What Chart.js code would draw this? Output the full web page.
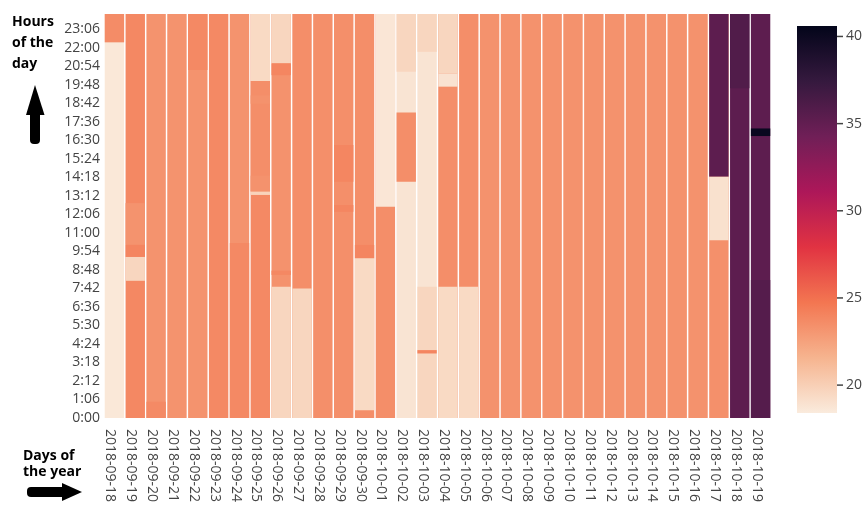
<!DOCTYPE html>
<html>
<head>
<meta charset="utf-8">
<script src="https://cdn.jsdelivr.net/npm/chart.js@4.4.1/dist/chart.umd.min.js"></script>
<style>
  html, body { margin: 0; padding: 0; background: #fff; }
  canvas { display: block; }
</style>
</head>
<body>
<canvas id="heat" width="867" height="506"></canvas>
<script>
// --- Data ---
const dates = [
    '2018-09-18', '2018-09-19', '2018-09-20', '2018-09-21', '2018-09-22', '2018-09-23',
    '2018-09-24', '2018-09-25', '2018-09-26', '2018-09-27', '2018-09-28', '2018-09-29',
    '2018-09-30', '2018-10-01', '2018-10-02', '2018-10-03', '2018-10-04', '2018-10-05',
    '2018-10-06', '2018-10-07', '2018-10-08', '2018-10-09', '2018-10-10', '2018-10-11',
    '2018-10-12', '2018-10-13', '2018-10-14', '2018-10-15', '2018-10-16', '2018-10-17',
    '2018-10-18', '2018-10-19'
];
const hourLabels = [
    '0:00', '1:06', '2:12', '3:18', '4:24', '5:30', '6:36', '7:42', '8:48', '9:54', '11:00',
    '12:06', '13:12', '14:18', '15:24', '16:30', '17:36', '18:42', '19:48', '20:54', '22:00', '23:06'
];
const colorTicks = [20, 25, 30, 35, 40];
const zMin = 18.4;
const zMax = 40.6;

// value over the whole day for each column
const baseValues = [
    18.6, 23.8, 23.25, 23.25, 23.25, 23.75, 23.25, 23.75, 23.3, 23.5, 23.45, 23.45,
    23.5, 23.5, 18.8, 18.8, 23.5, 23.5, 23.3, 23.3, 23.3, 23.3, 23.3, 23.3,
    23.3, 23.3, 23.3, 23.3, 23.3, 23.4, 35.3, 35.3
];
// parts of a day with another value: [day index, from minute, to minute, value]
const patches = [
    [0, 1339, 1440, 23.6],
    [1, 617, 766, 23.25], [1, 574, 617, 24.0], [1, 489, 574, 19.6],
    [2, 0, 58, 23.7],
    [4, 1240, 1440, 23.75],
    [6, 0, 624, 23.75],
    [7, 1201, 1440, 19.4], [7, 807, 1201, 23.5], [7, 807, 864, 23.3], [7, 795, 807, 19.8], [7, 1120, 1150, 23.3],
    [8, 1264, 1440, 19.6], [8, 1222, 1264, 23.9], [8, 0, 468, 19.6], [8, 510, 525, 23.8],
    [9, 0, 462, 19.6],
    [11, 842, 973, 23.95], [11, 735, 759, 23.95],
    [12, 569, 617, 24.0], [12, 28, 569, 19.4],
    [13, 753, 1440, 18.7],
    [14, 1234, 1440, 19.6], [14, 842, 1089, 23.5],
    [15, 1305, 1440, 19.6], [15, 0, 468, 19.6], [15, 230, 242, 24.0],
    [16, 1228, 1440, 19.6], [16, 1181, 1228, 18.9], [16, 0, 468, 19.4],
    [17, 0, 468, 19.4],
    [29, 860, 1440, 35.3], [29, 634, 860, 19.0],
    [30, 1175, 1440, 35.9],
    [31, 1005, 1032, 40.2], [31, 0, 492, 35.7]
];

// --- Colour scale (rocket, reversed: light = low) ---
const rocketStops = [
    [0, [3, 5, 26]], [1 / 7, [53, 25, 62]], [2 / 7, [112, 31, 87]], [3 / 7, [173, 23, 89]],
    [4 / 7, [225, 51, 66]], [5 / 7, [243, 118, 81]], [6 / 7, [246, 180, 143]], [1, [250, 235, 221]]
];

function rocket(p) {
    p = Math.max(0, Math.min(1, p));
    for (let i = 1; i < rocketStops.length; i++) {
        const [p1, c1] = rocketStops[i];
        const [p0, c0] = rocketStops[i - 1];
        if (p <= p1) {
            const f = (p - p0) / (p1 - p0);
            const c = c0.map((v, k) => Math.round(v + (c1[k] - v) * f));
            return `rgb(${c[0]},${c[1]},${c[2]})`;
        }
    }
    return 'rgb(250,235,221)';
}

function valueColor(v) {
    return rocket(1 - (v - zMin) / (zMax - zMin));
}

function toMinutes(label) {
    const [h, m] = label.split(':').map(Number);
    return h * 60 + m;
}

// --- Datasets: a full-day bar per column, then layers of patches on top ---
const layers = [];
const seen = {};
patches.forEach(([day, from, to, v]) => {
    const k = seen[day] = (seen[day] || 0) + 1;
    if (!layers[k - 1]) {
        layers[k - 1] = { range: Array(dates.length).fill(null), vals: Array(dates.length).fill(null) };
    }
    layers[k - 1].range[day] = [from, to];
    layers[k - 1].vals[day] = v;
});

const barStyle = {
    grouped: false,
    barPercentage: 1,
    categoryPercentage: 0.93,
    borderWidth: 0,
    inflateAmount: 0
};

const datasets = [{
    ...barStyle,
    data: baseValues.map(() => [0, 1440]),
    backgroundColor: c => valueColor(baseValues[c.dataIndex]),
    order: layers.length + 1
}];
layers.forEach((layer, k) => {
    datasets.push({
        ...barStyle,
        data: layer.range,
        backgroundColor: c => valueColor(layer.vals[c.dataIndex] ?? zMin),
        order: layers.length - k
    });
});

// --- Extra drawing: day labels, colour bar, axis notes ---
const CB = { left: 797, width: 40, top: 26, bottom: 413 };
const textColor = '#444';

const extrasPlugin = {
    id: 'extras',
    afterDraw(chart) {
        const ctx = chart.ctx;
        const xScale = chart.scales.x;
        ctx.save();

        // day labels, rotated to read downwards
        ctx.fillStyle = textColor;
        ctx.font = '14px "Open Sans"';
        ctx.textAlign = 'left';
        ctx.textBaseline = 'middle';
        dates.forEach((d, i) => {
            const x = xScale.getPixelForTick(i) - 4;
            ctx.save();
            ctx.translate(x, chart.chartArea.bottom + 11);
            ctx.rotate(Math.PI / 2);
            ctx.fillText(d, 0, 0);
            ctx.restore();
        });

        // colour bar
        const grad = ctx.createLinearGradient(0, CB.bottom, 0, CB.top);
        rocketStops.forEach(([p]) => grad.addColorStop(1 - p, rocket(p)));
        ctx.fillStyle = grad;
        ctx.fillRect(CB.left, CB.top, CB.width, CB.bottom - CB.top);

        ctx.strokeStyle = textColor;
        ctx.lineWidth = 1.5;
        ctx.fillStyle = textColor;
        ctx.textBaseline = 'middle';
        colorTicks.forEach(t => {
            const y = CB.bottom - (t - zMin) / (zMax - zMin) * (CB.bottom - CB.top);
            ctx.beginPath();
            ctx.moveTo(CB.left + CB.width, y);
            ctx.lineTo(CB.left + CB.width + 6, y);
            ctx.stroke();
            ctx.fillText(String(t), CB.left + CB.width + 9, y);
        });

        // axis notes with arrows
        ctx.fillStyle = '#000';
        ctx.font = 'bold 14px "Open Sans"';
        ctx.textBaseline = 'alphabetic';
        ctx.fillText('Hours', 12, 26);
        ctx.fillText('of the', 12, 47);
        ctx.fillText('day', 12, 68);
        ctx.fillText('Days of', 23, 460);
        ctx.fillText('the year', 23, 476);

        // up arrow
        ctx.beginPath();
        ctx.moveTo(35, 85);
        ctx.lineTo(44.5, 115);
        ctx.lineTo(26, 115);
        ctx.closePath();
        ctx.fill();
        ctx.beginPath();
        ctx.roundRect(30, 110, 10, 34, [0, 0, 4, 4]);
        ctx.fill();

        // right arrow
        ctx.beginPath();
        ctx.moveTo(82, 492);
        ctx.lineTo(62, 483);
        ctx.lineTo(62, 501);
        ctx.closePath();
        ctx.fill();
        ctx.beginPath();
        ctx.roundRect(27, 487, 38, 10, [4, 0, 0, 4]);
        ctx.fill();

        ctx.restore();
    }
};

new Chart(document.getElementById('heat'), {
    type: 'bar',
    data: { labels: dates, datasets: datasets },
    options: {
        responsive: false,
        animation: false,
        layout: { padding: { top: 14, right: 96, left: 0, bottom: 0 } },
        plugins: {
            legend: { display: false },
            tooltip: { enabled: false }
        },
        scales: {
            x: {
                grid: { display: false, drawTicks: false },
                border: { display: false },
                ticks: { display: false },
                afterFit: s => { s.height = 88; }
            },
            y: {
                min: 0,
                max: 1440,
                grid: { display: false, drawTicks: false },
                border: { display: false },
                afterBuildTicks: s => { s.ticks = hourLabels.map(l => ({ value: toMinutes(l) })); },
                ticks: {
                    autoSkip: false,
                    padding: 4,
                    color: textColor,
                    font: { family: 'Open Sans', size: 14 },
                    callback: (value, i) => hourLabels[i]
                },
                afterFit: s => { s.width = 104; }
            }
        }
    },
    plugins: [extrasPlugin]
});
</script>
</body>
</html>
